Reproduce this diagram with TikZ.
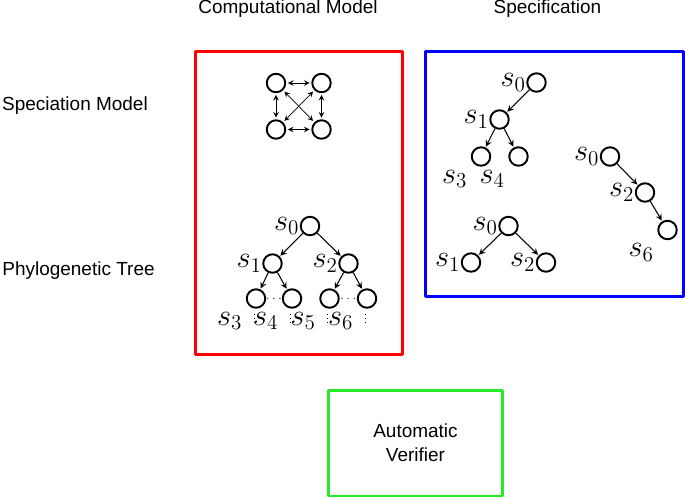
\documentclass[11pt,tikz,border=0pt]{standalone}
\usepackage{fontspec}
\setmainfont{Liberation Sans}
\usetikzlibrary{arrows,calc}
\definecolor{boxgreen}{RGB}{40,235,40}

\begin{document}
\begin{tikzpicture}[line join=round,>=stealth,x=0.02cm,y=-0.02cm]
\tikzset{st/.style={circle,draw,line width=1.1pt,minimum size=0.37cm,inner sep=0pt},
head/.style={anchor=base,inner sep=0pt,font=\fontsize{10.8}{13.5}\selectfont},
every label/.style={font=\fontsize{16.5}{19}\selectfont,inner sep=0pt},
bl/.style={label={[label distance=0.17cm]below left:$#1$}},
ar/.style={->,semithick,shorten >=0.5pt},
frame/.style={line width=1.7pt}}
\useasboundingbox (0,0) rectangle (685,498);
% headings
\node[head] (hcm) at (288,13.5) {Computational Model};
\node[head] (hsp) at (547.5,13.5) {Specification};
\node[head] (hsm) at (75,110.7) {Speciation Model};
\node[head] (hpt) at (78.5,275.7) {Phylogenetic Tree};
% boxes
\draw[frame,red] (195.5,51.5) rectangle (402.5,354);
\draw[frame,blue] (425,51.5) rectangle (683,296);
\node[frame,draw=boxgreen,minimum width=3.48cm,minimum height=2.12cm,align=center,
  font=\fontsize{10.8}{13.5}\selectfont] (ver) at (415.5,443) {Automatic\\Verifier};
% speciation model
\node[st] (m1) at (276,83) {};
\node[st] (m2) at (321.5,83) {};
\node[st] (m3) at (276,129.5) {};
\node[st] (m4) at (321.5,129.5) {};
\foreach \a/\b in {m1/m2,m3/m4,m1/m3,m2/m4,m1/m4,m2/m3}
  \draw[<->,thin,shorten <=1pt,shorten >=1pt] (\a) -- (\b);
% phylogenetic tree
\node[st,label=left:$s_0$] (p0) at (310,226) {};
\node[st,label=left:$s_1$] (p1) at (272.5,263.5) {};
\node[st,label=left:$s_2$] (p2) at (348.5,263.5) {};
\node[st,bl=s_3] (p3) at (256,298.5) {};
\node[st,bl=s_4] (p4) at (292,298.5) {};
\node[st,bl=s_5] (p5) at (329.5,298.5) {};
\node[st,bl=s_6] (p6) at (367,298.5) {};
\foreach \a/\b in {p0/p1,p0/p2,p1/p3,p1/p4,p2/p5,p2/p6}
  \draw[ar] (\a) -- (\b);
\node[inner sep=0pt,font=\tiny] (d1) at ($(p3)!0.5!(p4)$) {$\cdots$};
\node[inner sep=0pt,font=\tiny] (d2) at ($(p5)!0.5!(p6)$) {$\cdots$};
\foreach \n in {p3,p4,p5,p6}
  \draw[dotted,thin] ([xshift=-1pt,yshift=-3pt]\n.south) -- ++(0,11);
% specification trees
\node[st,label=left:$s_0$] (a0) at (536.5,82.5) {};
\node[st,label=left:$s_1$] (a1) at (499.5,119.5) {};
\node[st,bl=s_3] (a3) at (481,156.5) {};
\node[st,bl=s_4] (a4) at (518.5,156.5) {};
\foreach \a/\b in {a0/a1,a1/a3,a1/a4}
  \draw[ar] (\a) -- (\b);
\node[st,label=left:$s_0$] (b0) at (610,156.5) {};
\node[st,label=left:$s_2$] (b2) at (645,192.5) {};
\node[st,bl=s_6] (b6) at (667.5,230) {};
\foreach \a/\b in {b0/b2,b2/b6}
  \draw[ar] (\a) -- (\b);
\node[st,label=left:$s_0$] (c0) at (508.5,226) {};
\node[st,label=left:$s_1$] (c1) at (471,262.5) {};
\node[st,label=left:$s_2$] (c2) at (546,262.5) {};
\foreach \a/\b in {c0/c1,c0/c2}
  \draw[ar] (\a) -- (\b);
\end{tikzpicture}
\end{document}
